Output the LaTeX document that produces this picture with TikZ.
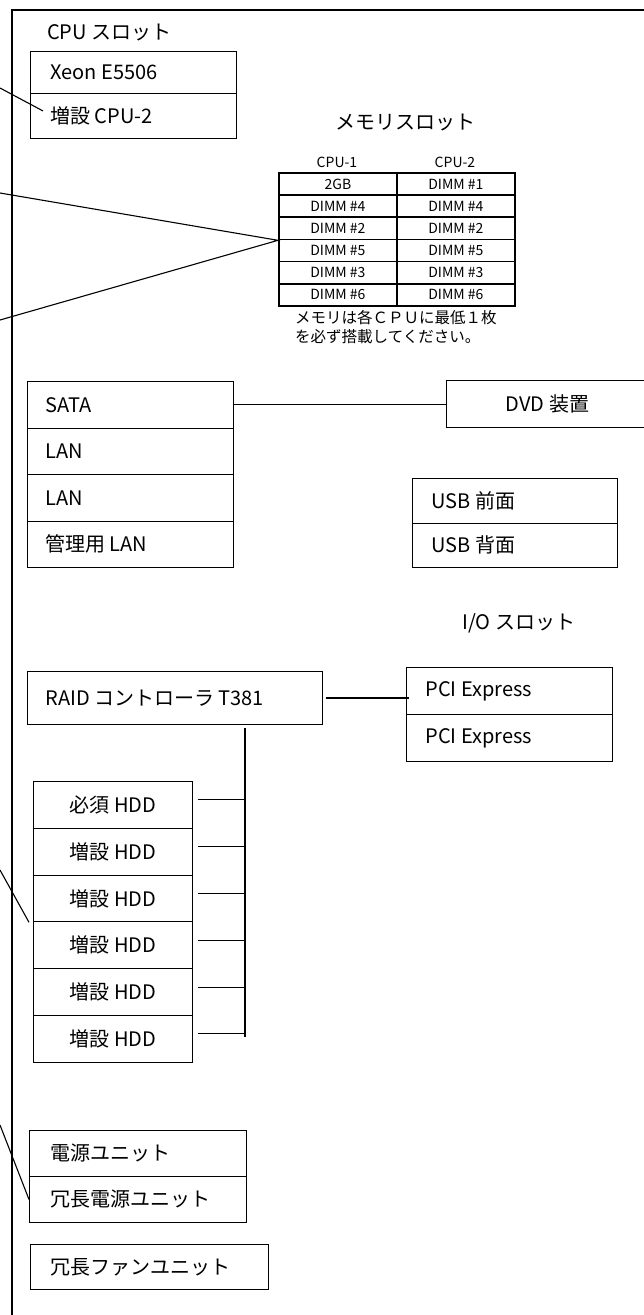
\documentclass[tikz,border=0pt]{standalone}
\usepackage{fontspec}
\setmainfont{Noto Sans CJK JP}
\newcommand\bigf{\fontsize{20}{24}\selectfont}
\newcommand\smallf{\fontsize{14}{17}\selectfont}
\newcommand\notef{\fontsize{15.5}{19}\selectfont}
\newcommand\lbox[3][20pt]{\makebox[#2][l]{\hspace{#1}#3}}
\begin{document}
\begin{tikzpicture}[x=1pt,y=-1pt,
  cell/.style={draw, line width=0.9pt, inner sep=0pt, anchor=north west, font=\bigf},
  ccell/.style={cell, minimum width=#1},
  tcell/.style={draw, line width=1.8pt, inner sep=0pt, anchor=north west,
    minimum width=118pt, minimum height=22.17pt, font=\smallf},
  wire/.style={line width=1.1pt},
  frame/.style={line width=2.5pt},
  lbl/.style={inner sep=0pt, anchor=west}
]
\useasboundingbox (0,0) rectangle (644,1315);
% outer frame
\draw[frame] (12,1320) -- (12,10) -- (650,10);

% CPU slot
\node[lbl, font=\bigf] (cputitle) at (47,33) {CPU スロット};
\node[cell, minimum height=42pt] (cpu1) at (30,51) {\lbox{206pt}{Xeon E5506}};
\node[cell, minimum height=45pt] (cpu2) at (30,93) {\lbox{206pt}{増設 CPU-2}};

% memory slot
\node[font=\bigf, inner sep=0pt] (memtitle) at (405,123) {メモリスロット};
\node[font=\smallf, inner sep=0pt] (hd1head) at (337,162) {CPU-1};
\node[font=\smallf, inner sep=0pt] (hd2head) at (455,162) {CPU-2};
\foreach \a/\b [count=\i] in {2GB/DIMM \#1, DIMM \#4/DIMM \#4, DIMM \#2/DIMM \#2,
    DIMM \#5/DIMM \#5, DIMM \#3/DIMM \#3, DIMM \#6/DIMM \#6}{
  \node[tcell] (ma\i) at (278,{172+(\i-1)*22.17}) {\a};
  \node[tcell] (mb\i) at (396,{172+(\i-1)*22.17}) {\b};
}
\node[lbl, font=\notef] (note1) at (295,318) {メモリは各ＣＰＵに最低１枚};
\node[lbl, font=\notef] (note2) at (295,337) {を必ず搭載してください。};

% SATA / LAN
\node[cell, minimum height=46.5pt] (sata) at (27,381) {\lbox[18pt]{206pt}{SATA}};
\node[cell, minimum height=46.5pt] (lan1) at (27,427.5) {\lbox[18pt]{206pt}{LAN}};
\node[cell, minimum height=46.5pt] (lan2) at (27,474) {\lbox[18pt]{206pt}{LAN}};
\node[cell, minimum height=46.5pt] (mlan) at (27,520.5) {\lbox[18pt]{206pt}{管理用 LAN}};
\node[ccell=202pt, minimum height=47pt] (dvd) at (446,380) {DVD 装置};

% USB
\node[cell, minimum height=44.5pt] (usb1) at (411.5,478) {\lbox[19.5pt]{205.5pt}{USB 前面}};
\node[cell, minimum height=44.5pt] (usb2) at (411.5,522.5) {\lbox[19.5pt]{205.5pt}{USB 背面}};

% I/O slot
\node[lbl, font=\bigf] (iotitle) at (462,623) {I/O スロット};
\node[cell, minimum height=53pt] (raid) at (27,671) {\lbox[18pt]{294.6pt}{RAID コントローラ T381}};
\node[cell, minimum height=47pt] (pci1) at (405.7,667) {\lbox[19.3pt]{206.3pt}{PCI Express}};
\node[cell, minimum height=47pt] (pci2) at (405.7,714) {\lbox[19.3pt]{206.3pt}{PCI Express}};

% HDDs
\foreach \t [count=\i] in {必須 HDD, 増設 HDD, 増設 HDD, 増設 HDD, 増設 HDD, 増設 HDD}{
  \node[ccell=159pt, minimum height=46.8pt] (hd\i) at (33,{781+(\i-1)*46.8}) {\t};
}

% power / fan
\node[cell, minimum height=46pt] (pw1) at (29,1130) {\lbox[21pt]{217pt}{電源ユニット}};
\node[cell, minimum height=46pt] (pw2) at (29,1176) {\lbox[21pt]{217pt}{冗長電源ユニット}};
\node[cell, minimum height=45pt] (fan) at (30,1244) {\lbox[20pt]{238pt}{冗長ファンユニット}};

% connectors
\draw[wire] (sata.east) -- (sata.east -| dvd.west);
\draw[wire] ([xshift=3pt]raid.east) -- ([xshift=3pt]raid.east -| pci1.west);
\coordinate (bustop) at (245,728);
\coordinate (busbot) at (245,1037);
\draw[wire] (bustop) -- (busbot);
\foreach \i in {1,...,6}{
  \draw[wire] ([xshift=5pt,yshift=5pt]hd\i.east) -- ([yshift=5pt]hd\i.east -| bustop);
}

% lines from outside
\coordinate (o1) at (0,88);
\coordinate (o2) at (0,193);
\coordinate (o3) at (0,320);
\coordinate (o4) at (0,870);
\coordinate (o5) at (0,1125);
\draw[wire] (o1) -- ([xshift=13pt,yshift=5pt]cpu2.west);
\draw[wire] (o2) -- (ma3.south west) -- (o3);
\draw[wire] (o4) -- ([xshift=-4pt]hd3.south west);
\draw[wire] (o5) -- (pw2.west);
\end{tikzpicture}
\end{document}
